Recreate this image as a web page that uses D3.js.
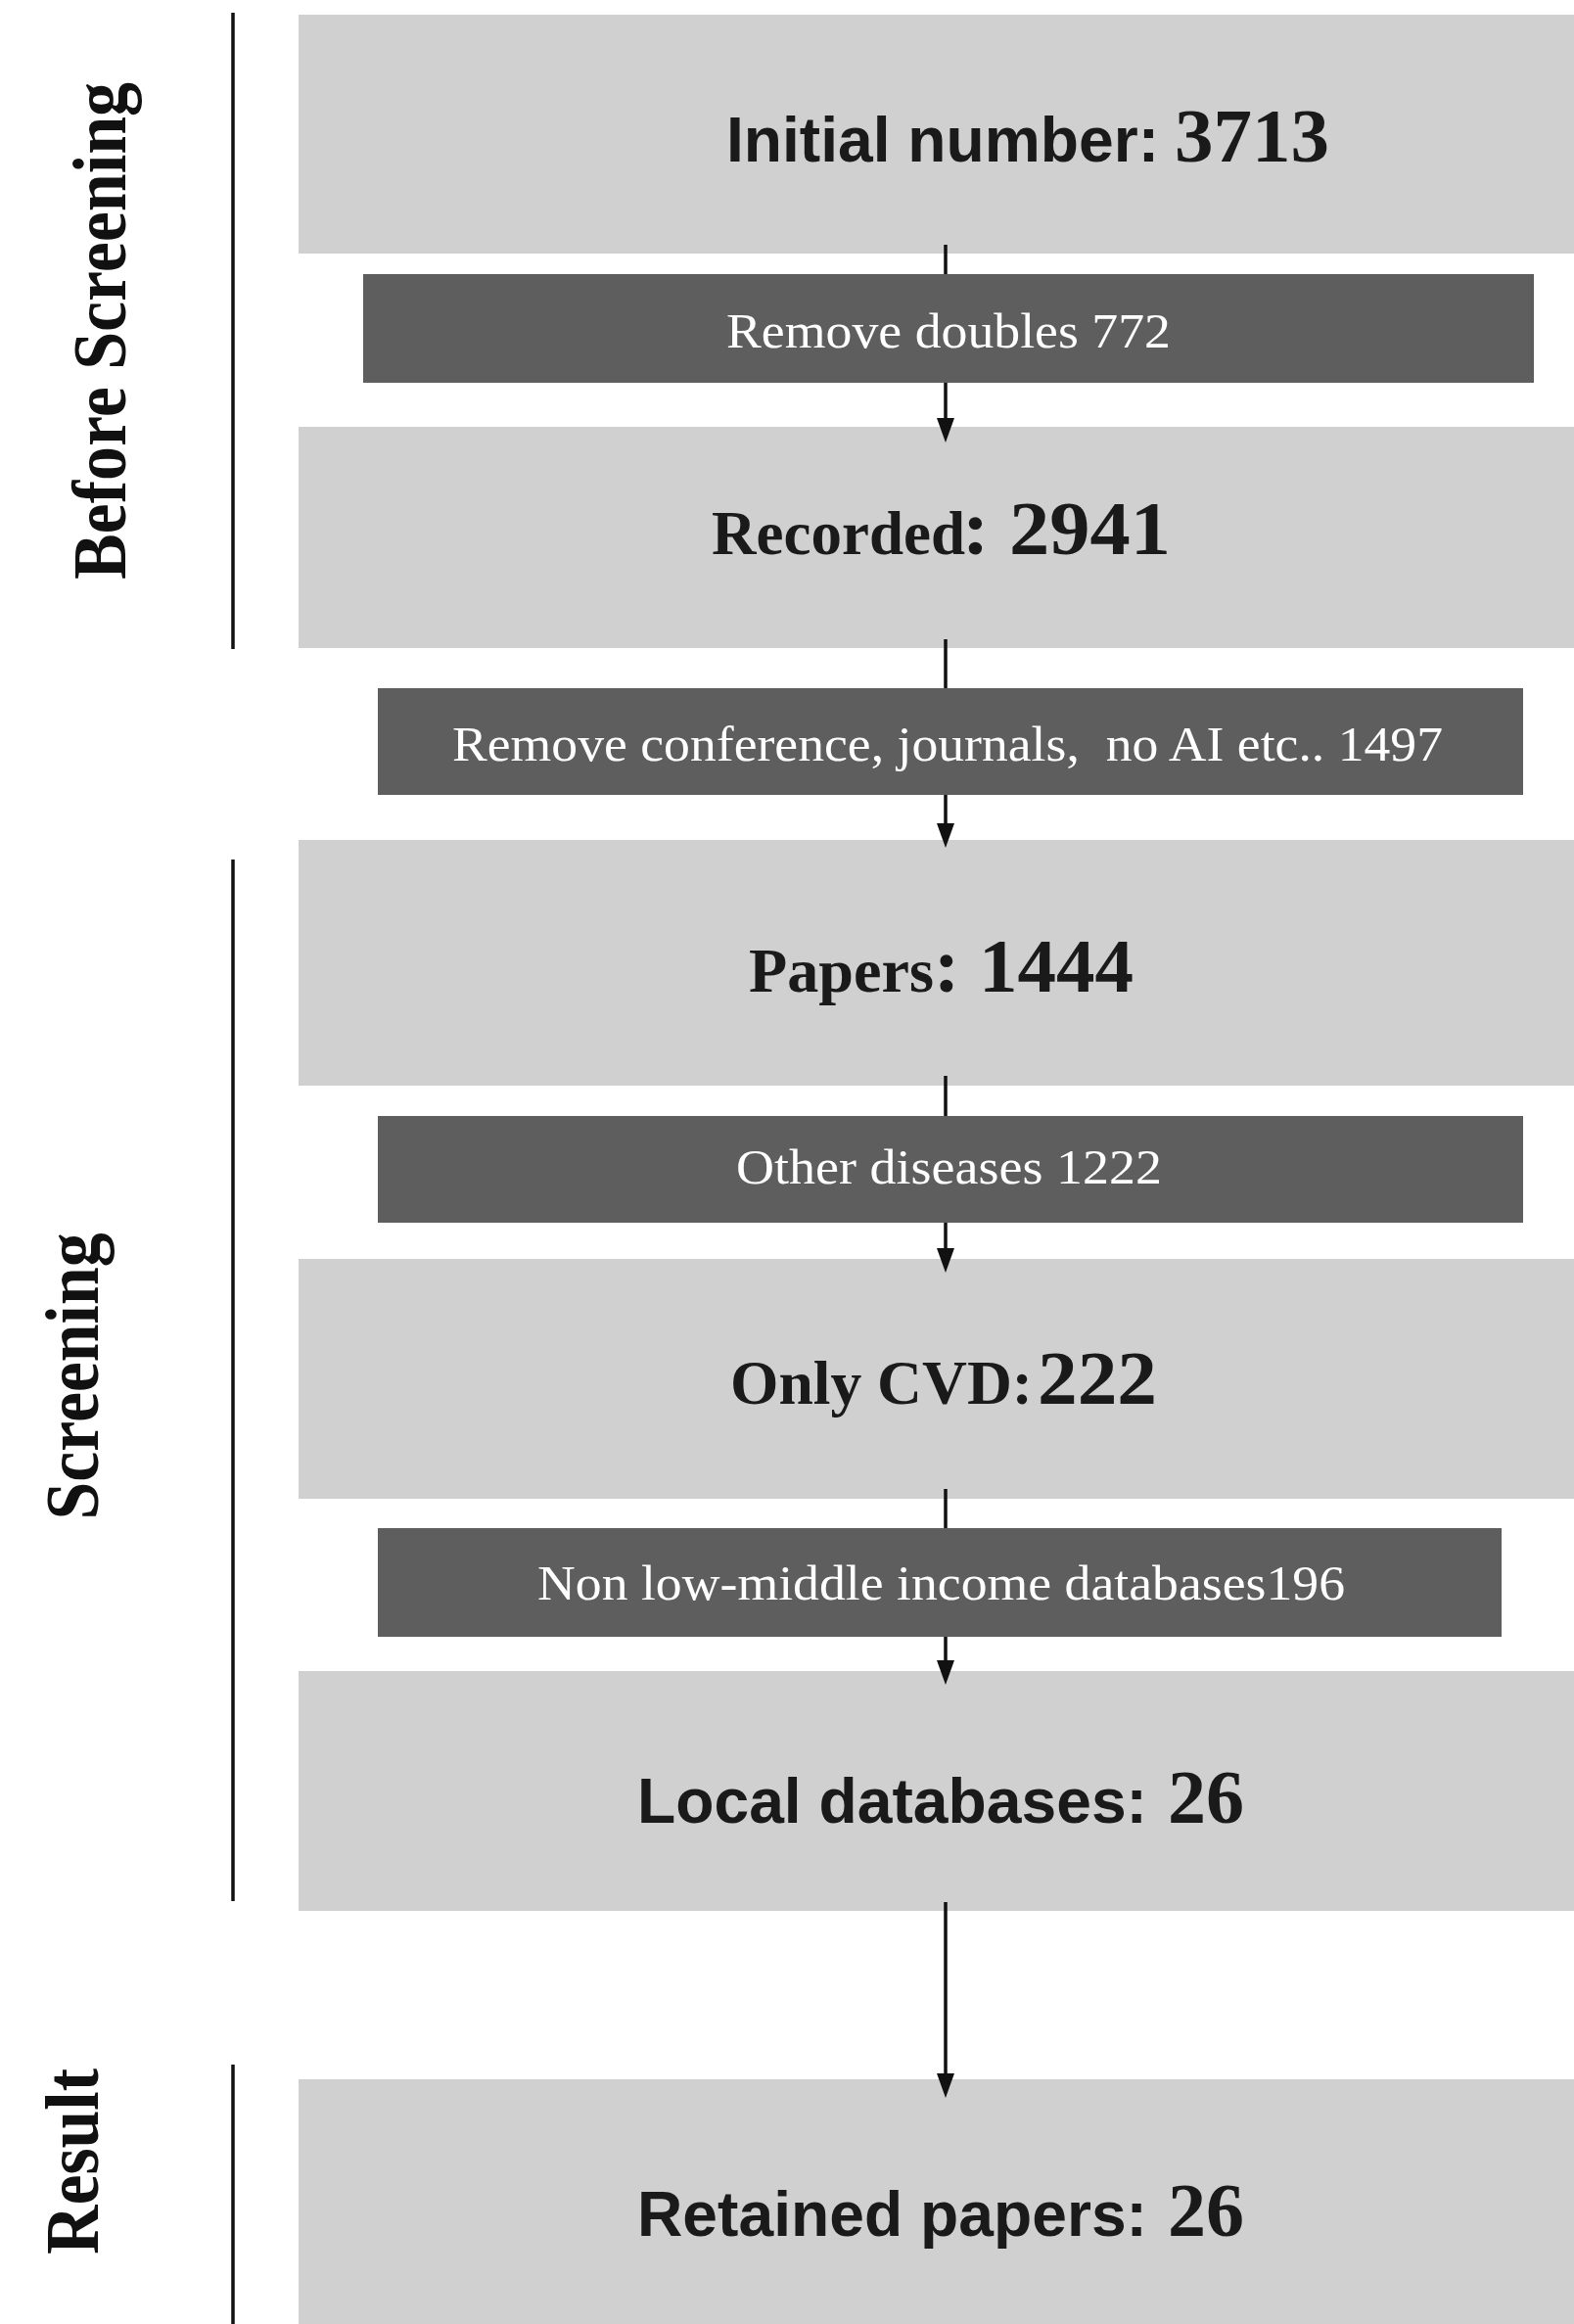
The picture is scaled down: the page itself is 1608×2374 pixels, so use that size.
<!DOCTYPE html>
<html>
<head>
<meta charset="utf-8">
<script src="https://cdn.jsdelivr.net/npm/d3@7"></script>
<style>
  html, body { margin: 0; padding: 0; background: #fff; }
  svg { display: block; }
  text { white-space: pre; }
</style>
</head>
<body>
<div id="box"></div>
<script>
// ---- data ----
var stageNames = ["Before Screening", "Screening", "Result"];
var countLabels = ["Initial number:", "Recorded", "Papers", "Only CVD:", "Local databases:", "Retained papers:"];
var countPrefix = ["", ": ", ": ", "", "", ""];
var counts = [3713, 2941, 1444, 222, 26, 26];
var removedLabels = ["Remove doubles ", "Remove conference, journals,  no AI etc.. ", "Other diseases ", "Non low-middle income databases"];
var removed = [772, 1497, 1222, 196];

var W = 1608, H = 2374;
var arrowX = 966;

// light boxes: top / bottom, label piece and number piece
var lightBoxes = [
    { y0: 15,   y1: 259,  base: 165,  lab: { x: 742, len: 442, font: "sans" }, num: { x: 1200, len: 158 } },
    { y0: 436,  y1: 662,  base: 566,  lab: { x: 727, len: 259, font: "serif" }, num: { x: 983, len: 213 } },
    { y0: 858,  y1: 1109, base: 1013, lab: { x: 765, len: 189, font: "serif" }, num: { x: 954, len: 204 } },
    { y0: 1286, y1: 1531, base: 1434, lab: { x: 746, len: 309, font: "serif" }, num: { x: 1060, len: 122 } },
    { y0: 1707, y1: 1952, base: 1862, lab: { x: 651, len: 521, font: "sans" }, num: { x: 1193, len: 78 } },
    { y0: 2124, y1: 2400, base: 2284, lab: { x: 651, len: 521, font: "sans" }, num: { x: 1193, len: 78 } }
];
var darkBoxes = [
    { x0: 371, x1: 1567, y0: 280,  y1: 391,  base: 355,  tx: 742, len: 454 },
    { x0: 386, x1: 1556, y0: 703,  y1: 812,  base: 777,  tx: 462, len: 1012 },
    { x0: 386, x1: 1556, y0: 1140, y1: 1249, base: 1209, tx: 752, len: 435 },
    { x0: 386, x1: 1534, y0: 1561, y1: 1672, base: 1634, tx: 549, len: 825 }
];
var arrows = [[250, 452], [653, 866], [1099, 1300], [1521, 1721], [1943, 2143]];
var stages = [
    { line: [13, 663],    bx: 128, cy: 338,  len: 508 },
    { line: [878, 1942],  bx: 100, cy: 1406, len: 293 },
    { line: [2109, 2380], bx: 100, cy: 2208, len: 190 }
];

var SANS = "'Liberation Sans', Arial, Helvetica, sans-serif";
var SERIF = "'Liberation Serif', 'Times New Roman', Times, serif";

var svg = d3.select("#box")
    .append("svg")
    .attr("width", W)
    .attr("height", H);

svg.append("rect").attr("width", W).attr("height", H).attr("fill", "#fff");

var boxLeft = 305;

// light grey boxes
svg.selectAll(".light")
    .data(lightBoxes)
    .enter()
    .append("rect")
    .attr("class", "light")
    .attr("x", boxLeft)
    .attr("y", function(d) { return d.y0; })
    .attr("width", W - boxLeft + 10)
    .attr("height", function(d) { return d.y1 - d.y0; })
    .attr("fill", "#d0d0d0");

// arrows (drawn over light boxes, under dark boxes)
svg.selectAll(".arrow")
    .data(arrows)
    .enter()
    .append("line")
    .attr("class", "arrow")
    .attr("x1", arrowX)
    .attr("x2", arrowX)
    .attr("y1", function(d) { return d[0]; })
    .attr("y2", function(d) { return d[1] - 20; })
    .attr("stroke", "#111")
    .attr("stroke-width", 3.5);

svg.selectAll(".head")
    .data(arrows)
    .enter()
    .append("path")
    .attr("class", "head")
    .attr("d", function(d) {
        var t = d[1];
        return "M" + (arrowX - 9) + "," + (t - 25) + " L" + (arrowX + 9) + "," + (t - 25) + " L" + arrowX + "," + t + " Z";
    })
    .attr("fill", "#111");

// dark grey boxes
svg.selectAll(".dark")
    .data(darkBoxes)
    .enter()
    .append("rect")
    .attr("class", "dark")
    .attr("x", function(d) { return d.x0; })
    .attr("y", function(d) { return d.y0; })
    .attr("width", function(d) { return d.x1 - d.x0; })
    .attr("height", function(d) { return d.y1 - d.y0; })
    .attr("fill", "#5e5e5e");

svg.selectAll(".darkText")
    .data(darkBoxes)
    .enter()
    .append("text")
    .attr("class", "darkText")
    .attr("x", function(d) { return d.tx; })
    .attr("y", function(d) { return d.base; })
    .attr("textLength", function(d) { return d.len; })
    .attr("lengthAdjust", "spacingAndGlyphs")
    .attr("font-family", SERIF)
    .attr("font-size", 50)
    .attr("fill", "#fff")
    .text(function(d, i) { return removedLabels[i] + removed[i]; });

// labels inside light boxes
var lab = svg.selectAll(".countText")
    .data(lightBoxes)
    .enter()
    .append("g")
    .attr("class", "countText");

lab.append("text")
    .attr("x", function(d) { return d.lab.x; })
    .attr("y", function(d) { return d.base; })
    .attr("textLength", function(d) { return d.lab.len; })
    .attr("lengthAdjust", "spacingAndGlyphs")
    .attr("font-family", function(d) { return d.lab.font == "sans" ? SANS : SERIF; })
    .attr("font-size", function(d) { return d.lab.font == "sans" ? 64 : 63; })
    .attr("font-weight", "bold")
    .attr("fill", "#1a1a1a")
    .text(function(d, i) { return countLabels[i]; });

lab.append("text")
    .attr("x", function(d) { return d.num.x; })
    .attr("y", function(d) { return d.base; })
    .attr("textLength", function(d) { return d.num.len; })
    .attr("lengthAdjust", "spacingAndGlyphs")
    .attr("font-family", SERIF)
    .attr("font-size", 79)
    .attr("font-weight", "bold")
    .attr("fill", "#1a1a1a")
    .text(function(d, i) { return countPrefix[i] + counts[i]; });

// stage brackets on the left
svg.selectAll(".stageLine")
    .data(stages)
    .enter()
    .append("line")
    .attr("class", "stageLine")
    .attr("x1", 238)
    .attr("x2", 238)
    .attr("y1", function(d) { return d.line[0]; })
    .attr("y2", function(d) { return d.line[1]; })
    .attr("stroke", "#111")
    .attr("stroke-width", 3.5);

svg.selectAll(".stageText")
    .data(stages)
    .enter()
    .append("text")
    .attr("class", "stageText")
    .attr("transform", function(d) { return "translate(" + d.bx + "," + d.cy + ") rotate(-90)"; })
    .attr("text-anchor", "middle")
    .attr("textLength", function(d) { return d.len; })
    .attr("lengthAdjust", "spacingAndGlyphs")
    .attr("font-family", SERIF)
    .attr("font-size", 78)
    .attr("font-weight", "bold")
    .attr("fill", "#111")
    .text(function(d, i) { return stageNames[i]; });
</script>
</body>
</html>
